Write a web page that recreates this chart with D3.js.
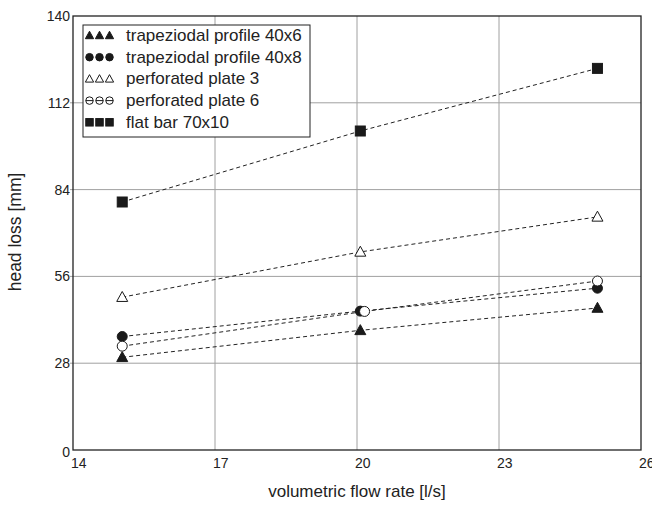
<!DOCTYPE html>
<html>
<head>
<meta charset="utf-8">
<script src="https://cdn.jsdelivr.net/npm/d3@7"></script>
<style>
  body { margin: 0; background: #fff; }
  svg text { font-family: "Liberation Sans", Arial, sans-serif; fill: #222; }
</style>
</head>
<body>
<svg id="chart" width="652" height="505"></svg>
<script>
// series
const seriesNames = ["trapeziodal profile 40x6", "trapeziodal profile 40x8", "perforated plate 3", "perforated plate 6", "flat bar 70x10"]
const seriesSymbols = ["triangle", "circle", "triangle", "circle", "square"]
const seriesFilled = [true, true, false, false, true]
const flowTrap6 = [15.04, 20.07, 25.08]
const lossTrap6 = [29.9, 38.6, 45.8]
const flowTrap8 = [15.04, 20.07, 25.08]
const lossTrap8 = [36.6, 44.8, 52.2]
const flowPerf3 = [15.04, 20.07, 25.08]
const lossPerf3 = [49.3, 63.9, 75.2]
const flowPerf6 = [15.04, 20.16, 25.08]
const lossPerf6 = [33.5, 44.7, 54.5]
const flowFlat = [15.04, 20.07, 25.08]
const lossFlat = [80.0, 102.9, 123.1]
const xTicks = [14, 17, 20, 23, 26]
const yTicks = [0, 28, 56, 84, 112, 140]

const seriesX = [flowTrap6, flowTrap8, flowPerf3, flowPerf6, flowFlat]
const seriesY = [lossTrap6, lossTrap8, lossPerf3, lossPerf6, lossFlat]

const svg = d3.select("#chart")
const plotLeft = 73, plotRight = 641, plotTop = 16, plotBottom = 450

const x = d3.scaleLinear().domain([14, 26]).range([plotLeft, plotRight])
const y = d3.scaleLinear().domain([0, 140]).range([plotBottom, plotTop])

// grid
svg.append("g")
  .selectAll("line")
  .data(xTicks.slice(1, -1))
  .join("line")
  .attr("x1", d => x(d)).attr("x2", d => x(d))
  .attr("y1", plotTop).attr("y2", plotBottom)
  .attr("stroke", "#a0a0a0").attr("stroke-width", 1)

svg.append("g")
  .selectAll("line")
  .data(yTicks.slice(1, -1))
  .join("line")
  .attr("x1", plotLeft - 3).attr("x2", plotRight)
  .attr("y1", d => y(d)).attr("y2", d => y(d))
  .attr("stroke", "#a0a0a0").attr("stroke-width", 1)

// frame
svg.append("rect")
  .attr("x", plotLeft).attr("y", plotTop)
  .attr("width", plotRight - plotLeft).attr("height", plotBottom - plotTop)
  .attr("fill", "none").attr("stroke", "#222").attr("stroke-width", 1.3)

// tick labels
svg.append("g")
  .selectAll("text")
  .data(yTicks)
  .join("text")
  .attr("x", plotLeft - 3)
  .attr("y", d => y(d) + (d === 0 ? 7 : 5))
  .attr("text-anchor", "end")
  .style("font-size", "14px")
  .text(d => d)

svg.append("g")
  .selectAll("text")
  .data(xTicks)
  .join("text")
  .attr("x", d => x(d) - 2)
  .attr("y", plotBottom + 18)
  .style("font-size", "14px")
  .text(d => d)

// axis titles
svg.append("text")
  .attr("x", 357)
  .attr("y", 497)
  .attr("text-anchor", "middle")
  .style("font-size", "17px")
  .text("volumetric flow rate [l/s]")

svg.append("text")
  .attr("transform", `translate(21,232) rotate(-90)`)
  .attr("text-anchor", "middle")
  .style("font-size", "17.5px")
  .text("head loss [mm]")

function drawSymbol(g, kind, filled, cx, cy, size) {
  const fill = filled ? "#1a1a1a" : "#fff"
  if (kind === "square") {
    g.append("rect")
      .attr("x", cx - size / 2).attr("y", cy - size / 2)
      .attr("width", size).attr("height", size)
      .attr("fill", fill).attr("stroke", "#1a1a1a").attr("stroke-width", 1)
  } else if (kind === "circle") {
    g.append("circle")
      .attr("cx", cx).attr("cy", cy).attr("r", size / 2)
      .attr("fill", fill).attr("stroke", "#1a1a1a").attr("stroke-width", 1)
  } else {
    const h = size * 0.95, w = size * 1.1
    g.append("path")
      .attr("d", `M${cx},${cy - h * 0.6}L${cx + w / 2},${cy + h * 0.45}L${cx - w / 2},${cy + h * 0.45}Z`)
      .attr("fill", fill).attr("stroke", "#1a1a1a").attr("stroke-width", 1)
  }
}

// lines and markers
const line = d3.line().x(d => x(d[0])).y(d => y(d[1]))
seriesNames.forEach((name, i) => {
  const pts = seriesX[i].map((v, j) => [v, seriesY[i][j]])
  svg.append("path")
    .attr("d", line(pts))
    .attr("fill", "none")
    .attr("stroke", "#222")
    .attr("stroke-width", 1)
    .attr("stroke-dasharray", "4,3")
})
seriesNames.forEach((name, i) => {
  const g = svg.append("g")
  seriesX[i].forEach((v, j) => {
    drawSymbol(g, seriesSymbols[i], seriesFilled[i], x(v), y(seriesY[i][j]), 10)
  })
})

// legend
const lx = 83, ly = 25, rowH = 21.7
svg.append("rect")
  .attr("x", lx).attr("y", ly)
  .attr("width", 227).attr("height", 112)
  .attr("fill", "#fff").attr("stroke", "#222").attr("stroke-width", 1)

seriesNames.forEach((name, i) => {
  const base = 41 + i * rowH
  const cy = base - 5.5
  const g = svg.append("g")
  ;[89.5, 99.5, 109.5].forEach(cx => {
    drawSymbol(g, seriesSymbols[i], seriesFilled[i], cx, cy, 7.5)
    if (seriesSymbols[i] === "circle" && !seriesFilled[i]) {
      g.append("line")
        .attr("x1", cx - 3.7).attr("x2", cx + 3.7)
        .attr("y1", cy).attr("y2", cy)
        .attr("stroke", "#1a1a1a").attr("stroke-width", 1)
    }
  })
  g.append("text")
    .attr("x", 126)
    .attr("y", base)
    .style("font-size", "17px")
    .text(name)
})
</script>
</body>
</html>
